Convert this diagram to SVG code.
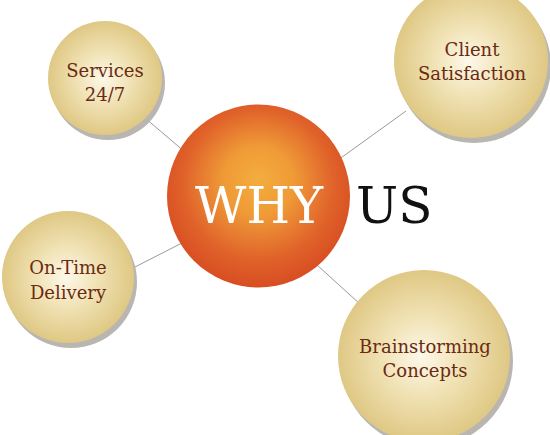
<svg xmlns="http://www.w3.org/2000/svg" width="550" height="435" viewBox="0 0 550 435">
<defs>
<radialGradient id="gold" cx="0.5" cy="0.5" r="0.5" fx="0.48" fy="0.5">
<stop offset="0" stop-color="#fdf8ea"/>
<stop offset="0.45" stop-color="#f1e3b6"/>
<stop offset="1" stop-color="#dfc884"/>
</radialGradient>
<radialGradient id="orange" cx="0.5" cy="0.45" r="0.55" fx="0.5" fy="0.4">
<stop offset="0" stop-color="#f4ad3d"/>
<stop offset="0.35" stop-color="#ef9a37"/>
<stop offset="0.75" stop-color="#e0622a"/>
<stop offset="1" stop-color="#d84d22"/>
</radialGradient>
<style>
.shadow{fill:#b9b6b2}
.bub{fill:url(#gold)}
.lbl{font-family:"DejaVu Serif","Liberation Serif",serif;font-size:18px;fill:#6b2a12;text-anchor:middle}
.conn line{stroke:#9a9a9a;stroke-width:1}
.big{font-family:"DejaVu Serif","Liberation Serif",serif;font-size:50px;font-weight:normal}
</style>
</defs>
<rect width="550" height="435" fill="#ffffff"/>
<g id="connectors" class="conn">
<line x1="145" y1="118" x2="185" y2="152"/>
<line x1="406" y1="111" x2="338" y2="160"/>
<line x1="133" y1="268" x2="182" y2="243"/>
<line x1="317" y1="265" x2="360" y2="304"/>
</g>
<g id="node-services">
<circle class="shadow" cx="108" cy="83" r="57"/>
<circle class="bub" cx="105" cy="78" r="57"/>
<text class="lbl" x="105" y="77">Services</text>
<text class="lbl" x="105" y="101">24/7</text>
</g>
<g id="node-client">
<circle class="shadow" cx="474" cy="66" r="77"/>
<circle class="bub" cx="471" cy="61" r="77"/>
<text class="lbl" x="472" y="56">Client</text>
<text class="lbl" x="472" y="80">Satisfaction</text>
</g>
<g id="node-ontime">
<circle class="shadow" cx="71" cy="282" r="66"/>
<circle class="bub" cx="68" cy="277" r="66"/>
<text class="lbl" x="68" y="274">On-Time</text>
<text class="lbl" x="68" y="299">Delivery</text>
</g>
<g id="node-brainstorming">
<circle class="shadow" cx="427" cy="361" r="86"/>
<circle class="bub" cx="424" cy="356" r="86"/>
<text class="lbl" x="425" y="353">Brainstorming</text>
<text class="lbl" x="425" y="377">Concepts</text>
</g>
<g id="node-center">
<circle cx="258.5" cy="196" r="91.5" fill="url(#orange)"/>
<text class="big" x="195" y="223" fill="#ffffff">WHY</text>
<text class="big" x="356" y="223" fill="#111111">US</text>
</g>
</svg>
